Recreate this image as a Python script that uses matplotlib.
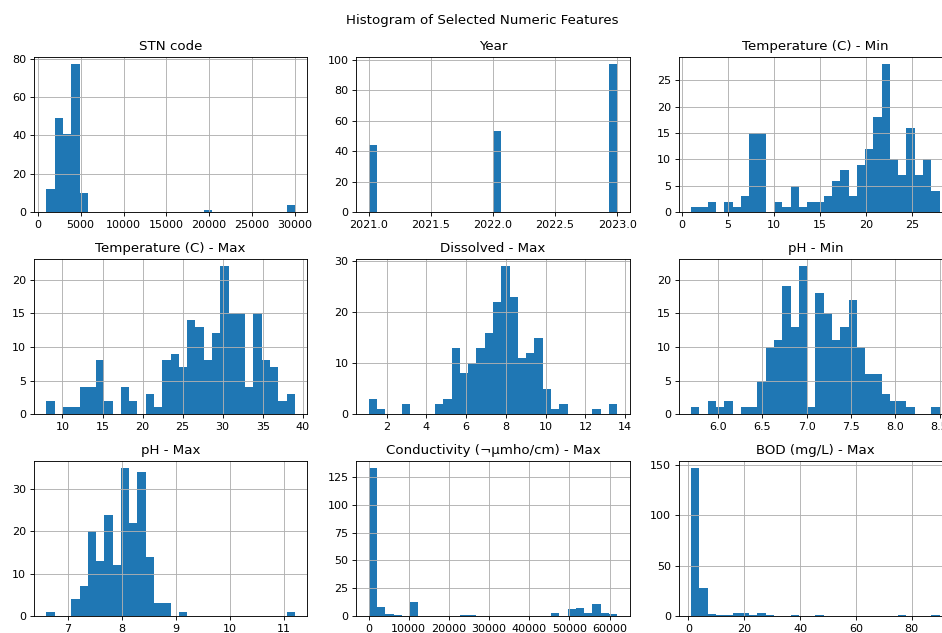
import matplotlib
matplotlib.use("Agg")
import matplotlib.pyplot as plt
import numpy as np

# bin counts (30 bins each) and the (min, max) of every column
titles = ['STN code', 'Year', 'Temperature (C) - Min',
          'Temperature (C) - Max', 'Dissolved - Max', 'pH - Min',
          'pH - Max', 'Conductivity (¬µmho/cm) - Max', 'BOD (mg/L) - Max']

stn_range = (1000, 30000)
stn_counts = [12, 49, 41, 77, 10] + [0] * 14 + [1] + [0] * 9 + [4]

year_range = (2021, 2023)
year_counts = [44] + [0] * 14 + [53] + [0] * 13 + [97]

tmin_range = (1, 28)
tmin_counts = [1, 1, 2, 0, 2, 1, 3, 15, 15, 0, 2, 1, 5, 1, 2, 2, 3, 6, 8, 3,
               9, 12, 18, 28, 10, 7, 16, 7, 10, 4]

tmax_range = (8, 39)
tmax_counts = [2, 0, 1, 1, 4, 4, 8, 2, 0, 4, 2, 0, 3, 1, 8, 9, 7, 14, 13, 8,
               12, 22, 15, 15, 4, 15, 8, 7, 2, 3]

do_range = (1.1, 13.6)
do_counts = [3, 1, 0, 0, 2, 0, 0, 0, 2, 3, 13, 8, 10, 13, 16, 22, 29, 23, 11, 12,
             15, 5, 1, 2, 0, 0, 0, 1, 0, 2]

phmin_range = (5.7, 8.5)
phmin_counts = [1, 0, 2, 1, 2, 0, 1, 1, 5, 10, 11, 19, 13, 22, 1, 18, 15, 11, 13, 17,
                10, 6, 6, 3, 2, 2, 1, 0, 0, 1]

phmax_range = (6.6, 11.2)
phmax_counts = [1, 0, 0, 4, 7, 20, 13, 24, 12, 35, 22, 34, 14, 3, 3, 0, 1] + [0] * 12 + [1]

cond_range = (60, 61900)
cond_counts = [133, 8, 2, 1, 0, 13, 0, 0, 0, 0, 0, 1, 1] + [0] * 9 + [3, 0, 6, 7, 3, 11, 3, 2]

bod_range = (1, 90)
bod_counts = [147, 28, 2, 1, 1, 3, 3, 1, 3, 1, 0, 0, 1, 0, 0, 1] + [0] * 9 + [1, 0, 0, 0, 1]

ranges = [stn_range, year_range, tmin_range, tmax_range, do_range,
          phmin_range, phmax_range, cond_range, bod_range]
counts = [stn_counts, year_counts, tmin_counts, tmax_counts, do_counts,
          phmin_counts, phmax_counts, cond_counts, bod_counts]

fig, axes = plt.subplots(3, 3, figsize=(942 / 80, 633 / 80), dpi=80)
fig.subplots_adjust(left=34 / 942, right=952 / 942, bottom=1 - 616 / 633,
                    top=1 - 57 / 633, wspace=0.18, hspace=0.30)

for ax, title, rng, cnt in zip(axes.flat, titles, ranges, counts):
    edges = np.linspace(rng[0], rng[1], 31)
    ax.hist(edges[:-1], bins=edges, weights=cnt)
    ax.set_title(title)
    ax.grid(True)

fig.suptitle('Histogram of Selected Numeric Features', x=482 / 942, y=1 - 14 / 633)
fig.savefig('out.png', dpi=80)
